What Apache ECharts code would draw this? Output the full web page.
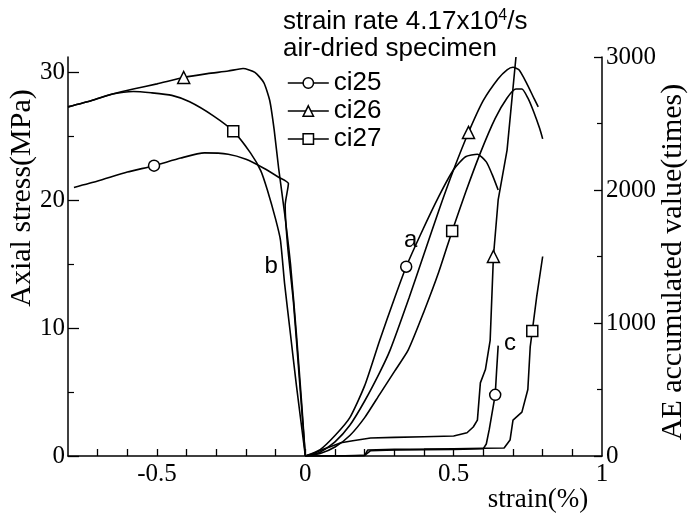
<!DOCTYPE html>
<html>
<head>
<meta charset="utf-8">
<script src="https://cdn.jsdelivr.net/npm/echarts@6/dist/echarts.min.js"></script>
<style>
html, body { margin: 0; padding: 0; background: #fff; }
#main { width: 689px; height: 521px; }
</style>
</head>
<body>
<div id="main"></div>
<script>
// strain(%) / axial stress(MPa) - lateral side (b)
var ci25Lateral = [[-0.78, 21.0], [-0.7, 21.5], [-0.6, 22.2], [-0.51, 22.7], [-0.42, 23.3], [-0.34, 23.7], [-0.26, 23.6], [-0.2, 23.2], [-0.14, 22.5], [-0.09, 21.8], [-0.057, 21.3], [-0.068, 19.6], [-0.06, 16.5], [-0.04, 12], [-0.02, 6], [0, 0]];
var ci26Lateral = [[-0.8, 27.3], [-0.72, 27.8], [-0.65, 28.3], [-0.58, 28.7], [-0.5, 29.1], [-0.41, 29.6], [-0.33, 29.9], [-0.26, 30.1], [-0.21, 30.3], [-0.17, 30.0], [-0.14, 29.2], [-0.12, 27.8], [-0.105, 25.5], [-0.09, 22.5], [-0.07, 19], [-0.05, 15], [-0.03, 9.5], [-0.012, 4], [0, 0]];
var ci27Lateral = [[-0.8, 27.3], [-0.72, 27.8], [-0.65, 28.3], [-0.58, 28.5], [-0.52, 28.4], [-0.45, 28.2], [-0.39, 27.7], [-0.31, 26.6], [-0.243, 25.4], [-0.185, 23.7], [-0.15, 22.3], [-0.128, 20.8], [-0.1, 18.5], [-0.084, 16.9], [-0.07, 13.5], [-0.05, 9.5], [-0.03, 5.5], [0, 0]];
// axial side (a)
var ci25Axial = [[0, 0], [0.05, 0.5], [0.1, 1.6], [0.15, 3.0], [0.2, 5.5], [0.25, 9.0], [0.3, 12.3], [0.34, 14.8], [0.39, 17.4], [0.45, 20.3], [0.5, 22.4], [0.54, 23.4], [0.58, 23.6], [0.61, 23.0], [0.63, 22.0], [0.65, 20.8]];
var ci26Axial = [[0, 0], [0.05, 0.3], [0.1, 1.1], [0.15, 2.4], [0.2, 4.3], [0.25, 6.5], [0.286, 8.3], [0.35, 12.4], [0.4, 15.8], [0.45, 19.2], [0.5, 22.4], [0.55, 25.3], [0.6, 27.8], [0.65, 29.5], [0.68, 30.2], [0.7, 30.4], [0.72, 30.2], [0.745, 29.2], [0.77, 28.0], [0.785, 27.3]];
var ci27Axial = [[0, 0], [0.05, 0.2], [0.1, 0.7], [0.15, 1.6], [0.2, 3.0], [0.25, 4.8], [0.3, 6.6], [0.347, 8.3], [0.4, 11.3], [0.45, 14.4], [0.495, 17.6], [0.54, 20.6], [0.59, 23.7], [0.64, 26.4], [0.68, 28.0], [0.71, 28.7], [0.73, 28.7], [0.75, 28.0], [0.77, 26.9], [0.79, 25.6], [0.8, 24.8]];
// strain(%) / AE accumulated value(times) (c)
var ci25AE = [[0, 0], [0.1, 0], [0.2, 5], [0.22, 40], [0.3, 45], [0.4, 48], [0.5, 50], [0.6, 55], [0.61, 90], [0.62, 200], [0.63, 330], [0.64, 460], [0.645, 650], [0.65, 830]];
var ci26AE = [[0, 0], [0.03, 20], [0.06, 50], [0.084, 70], [0.12, 100], [0.16, 115], [0.22, 135], [0.3, 140], [0.4, 145], [0.5, 150], [0.545, 175], [0.566, 218], [0.58, 270], [0.59, 550], [0.607, 650], [0.623, 870], [0.634, 1500], [0.65, 1925], [0.68, 2300], [0.71, 3000]];
var ci27AE = [[0, 0], [0.15, 0], [0.2, 5], [0.21, 45], [0.3, 50], [0.4, 52], [0.5, 55], [0.6, 58], [0.67, 60], [0.69, 120], [0.7, 270], [0.73, 330], [0.75, 500], [0.758, 820], [0.765, 940], [0.78, 1200], [0.8, 1500]];
// one marker per curve
var ci25Marks = [[-0.51, 22.7], [0.34, 14.8]];
var ci26Marks = [[-0.41, 29.6], [0.55, 25.3]];
var ci27Marks = [[-0.243, 25.4], [0.495, 17.6]];
var ci25AEMark = [[0.64, 460]];
var ci26AEMark = [[0.634, 1500]];
var ci27AEMark = [[0.765, 940]];
var notes = [[0.355, 16.9, 'a'], [-0.115, 14.8, 'b'], [0.69, 8.8, 'c']];
// axis ticks
var xLabelValues = [-0.5, 0, 0.5, 1];
var xTickValues = [-0.7, -0.6, -0.5, -0.4, -0.3, -0.2, -0.1, 0, 0.1, 0.2, 0.3, 0.4, 0.5, 0.6, 0.7, 0.8, 0.9];
var stressTicks = [0, 10, 20, 30];
var stressMinorTicks = [5, 15, 25];

var serif = 'Liberation Serif';
var sans = 'Liberation Sans';
var black = '#000';

var myChart = echarts.init(document.getElementById('main'));

function curve(name, data, yIdx, symbol, smooth) {
  return {
    name: name, type: 'line', yAxisIndex: yIdx, data: data,
    symbol: symbol, symbolSize: 11, showSymbol: false, smooth: smooth,
    lineStyle: { color: black, width: 1.6 },
    itemStyle: { color: '#fff', borderColor: black, borderWidth: 1.5 },
    silent: true, z: 2
  };
}
function marks(name, data, yIdx, symbol) {
  return {
    name: name, type: 'scatter', yAxisIndex: yIdx, data: data,
    symbol: symbol, symbolSize: symbol === 'triangle' ? 12 : 11,
    itemStyle: { color: '#fff', borderColor: black, borderWidth: 1.5, opacity: 1 },
    silent: true, z: 5
  };
}

var option = {
  animation: false,
  grid: { left: 68, right: 87, top: 57, bottom: 65 },
  legend: {
    data: ['ci25', 'ci26', 'ci27'],
    orient: 'vertical', left: 282, top: 65,
    itemWidth: 41, itemHeight: 13, itemGap: 2,
    selectedMode: false,
    itemStyle: { color: '#fff', borderColor: black, borderWidth: 1.5 },
    lineStyle: { color: black, width: 1.6 },
    textStyle: { fontFamily: sans, fontSize: 26, color: black }
  },
  graphic: [
    {
      type: 'text', left: 283, top: 8,
      style: {
        text: 'strain rate 4.17x10{sup|4}/s',
        font: '26px ' + sans, fill: black,
        rich: { sup: { fontSize: 16, fontFamily: sans, verticalAlign: 'top', padding: [0, 0, 12, 0] } }
      }
    },
    { type: 'text', left: 283, top: 36, style: { text: 'air-dried specimen', font: '26px ' + sans, fill: black } },
    {
      type: 'text', x: 22, y: 198, rotation: Math.PI / 2,
      style: { text: 'Axial stress(MPa)', font: '30px ' + serif, fill: black, align: 'center', verticalAlign: 'middle' }
    },
    {
      type: 'text', x: 673, y: 262, rotation: Math.PI / 2,
      style: { text: 'AE accumulated value(times)', font: '30px ' + serif, fill: black, align: 'center', verticalAlign: 'middle' }
    },
    { type: 'text', x: 538, y: 500, style: { text: 'strain(%)', font: '27px ' + serif, fill: black, align: 'center', verticalAlign: 'middle' } }
  ],
  xAxis: {
    type: 'value', min: -0.8, max: 1,
    axisLine: { onZero: false, lineStyle: { color: black, width: 1.5 } },
    axisTick: { inside: true, length: 7, customValues: xTickValues, lineStyle: { color: black, width: 1.3 } },
    axisLabel: { customValues: xLabelValues, fontFamily: serif, fontSize: 25, color: black, margin: 6 },
    splitLine: { show: false }
  },
  yAxis: [
    {
      type: 'value', min: 0, max: 31.2, position: 'left',
      axisLine: { show: true, onZero: false, lineStyle: { color: black, width: 1.5 } },
      axisTick: { show: true, inside: true, length: 11, customValues: stressTicks, lineStyle: { color: black, width: 1.3 } },
      axisLabel: { customValues: stressTicks, fontFamily: serif, fontSize: 25, color: black, margin: 3 },
      splitLine: { show: false }
    },
    {
      type: 'value', min: 0, max: 3000, interval: 1000, position: 'right',
      axisLine: { show: true, onZero: false, lineStyle: { color: black, width: 1.5 } },
      axisTick: { show: true, inside: true, length: 8, lineStyle: { color: black, width: 1.3 } },
      minorTick: { show: true, splitNumber: 2, length: 5, lineStyle: { color: black, width: 1.2 } },
      axisLabel: { fontFamily: serif, fontSize: 25, color: black, margin: 4, formatter: function (v) { return String(v); } },
      splitLine: { show: false }
    },
    {
      type: 'value', min: 0, max: 31.2, position: 'left',
      axisLine: { show: false, onZero: false },
      axisTick: { show: true, inside: true, length: 6, customValues: stressMinorTicks, lineStyle: { color: black, width: 1.2 } },
      axisLabel: { show: false },
      splitLine: { show: false }
    }
  ],
  series: [
    curve('ci25', ci25Lateral, 0, 'circle', 0.2),
    curve('ci26', ci26Lateral, 0, 'triangle', 0.2),
    curve('ci27', ci27Lateral, 0, 'rect', 0.2),
    curve('ci25', ci25Axial, 0, 'circle', 0.2),
    curve('ci26', ci26Axial, 0, 'triangle', 0.2),
    curve('ci27', ci27Axial, 0, 'rect', 0.2),
    curve('ci25', ci25AE, 1, 'circle', false),
    curve('ci26', ci26AE, 1, 'triangle', false),
    curve('ci27', ci27AE, 1, 'rect', false),
    marks('ci25', ci25Marks, 0, 'circle'),
    marks('ci26', ci26Marks, 0, 'triangle'),
    marks('ci27', ci27Marks, 0, 'rect'),
    marks('ci25', ci25AEMark, 1, 'circle'),
    marks('ci26', ci26AEMark, 1, 'triangle'),
    marks('ci27', ci27AEMark, 1, 'rect'),
    {
      name: 'notes', type: 'scatter', yAxisIndex: 0, data: notes,
      symbolSize: 0, silent: true, z: 6,
      itemStyle: { opacity: 1 },
      label: {
        show: true, position: 'inside', formatter: function (p) { return p.value[2]; },
        fontFamily: sans, fontSize: 24, color: black, opacity: 1
      }
    }
  ]
};
myChart.setOption(option);
</script>
</body>
</html>
